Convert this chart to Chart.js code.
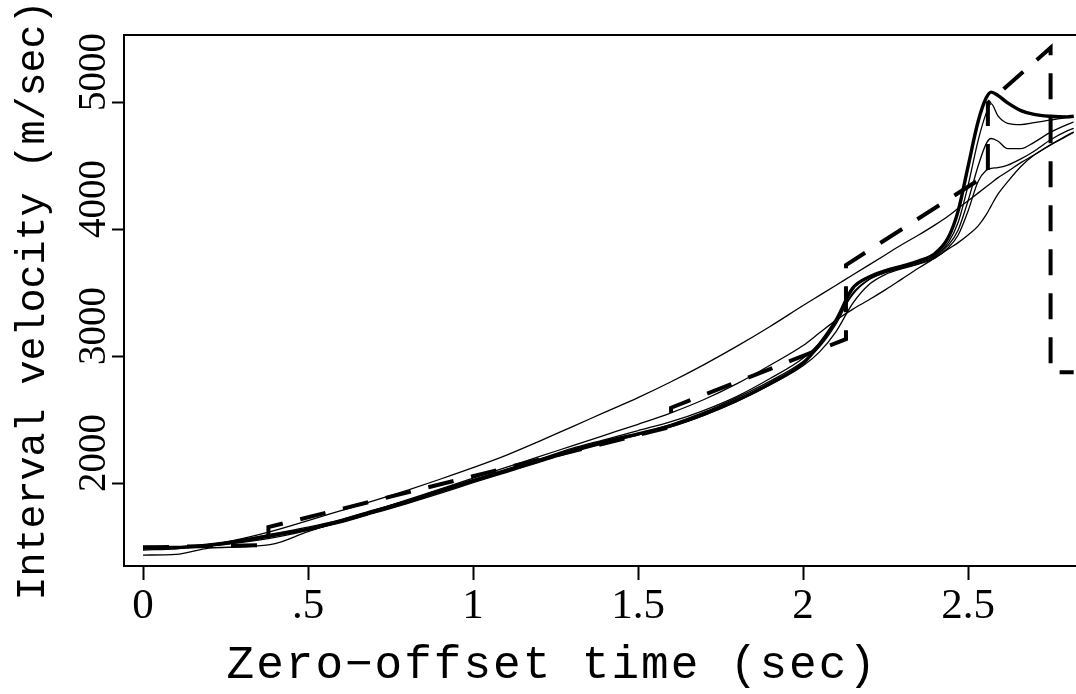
<!DOCTYPE html>
<html>
<head>
<meta charset="utf-8">
<script src="https://cdn.jsdelivr.net/npm/chart.js@4.4.1/dist/chart.umd.min.js"></script>
<style>
  html, body { margin: 0; padding: 0; background: #fff; }
  #wrap { width: 1076px; height: 694px; }
</style>
</head>
<body>
<div id="wrap"><canvas id="grafico" width="1076" height="694"></canvas></div>
<script>
// zero-offset time (sec) shared by the solid curves
const timeGrid = [0, 0.1, 0.2, 0.3, 0.4, 0.5, 0.6, 0.7, 0.8, 0.9, 1.0, 1.1, 1.2, 1.3, 1.4, 1.5, 1.6, 1.7, 1.8, 1.9, 2.0,
  2.05, 2.1, 2.15, 2.2, 2.25, 2.3, 2.35, 2.4,
  2.44, 2.47, 2.5, 2.53, 2.555, 2.57, 2.59, 2.62, 2.66, 2.7, 2.75, 2.8, 2.82];

// interval velocities (m/sec)
const thickVel = [1500, 1500, 1520, 1555, 1600, 1645, 1710, 1785, 1860, 1945, 2025, 2105, 2185, 2265, 2335, 2395, 2460, 2550, 2660, 2790, 2950,
  3100, 3290, 3540, 3630, 3680, 3715, 3755, 3815,
  3940, 4150, 4500, 4850, 5040, 5085, 5060, 5000, 4940, 4910, 4895, 4890, 4895];
const thinVelA = [1490, 1495, 1515, 1545, 1590, 1640, 1700, 1775, 1850, 1935, 2015, 2095, 2175, 2255, 2325, 2395, 2470, 2565, 2680, 2810, 2965,
  3080, 3260, 3500, 3610, 3665, 3705, 3745, 3800,
  3900, 4060, 4350, 4700, 4920, 4995, 4900, 4840, 4830, 4845, 4866, 4885, 4890];
const thinVelB = [1510, 1505, 1525, 1560, 1610, 1660, 1720, 1795, 1870, 1955, 2035, 2115, 2195, 2280, 2350, 2420, 2490, 2580, 2690, 2830, 2990,
  3110, 3290, 3490, 3610, 3665, 3700, 3735, 3790,
  3880, 4000, 4230, 4500, 4680, 4720, 4700, 4640, 4640, 4690, 4770, 4830, 4850];
const thinVelC = [1495, 1500, 1510, 1540, 1580, 1635, 1695, 1770, 1845, 1925, 2010, 2090, 2170, 2250, 2320, 2385, 2450, 2540, 2650, 2780, 2930,
  3040, 3200, 3420, 3570, 3650, 3695, 3730, 3780,
  3860, 3960, 4150, 4380, 4470, 4485, 4490, 4510, 4560, 4620, 4710, 4780, 4800];
const upperVel = [1480, 1490, 1520, 1570, 1635, 1712, 1790, 1868, 1950, 2037, 2128, 2225, 2335, 2450, 2565, 2680, 2805, 2940, 3085, 3240, 3405,
  3485, 3565, 3645, 3725, 3805, 3885, 3960, 4040,
  4110, 4170, 4230, 4290, 4340, 4370, 4410, 4460, 4530, 4590, 4670, 4740, 4770];
const lowerVel = [1440, 1445, 1495, 1505, 1530, 1625, 1705, 1790, 1875, 1960, 2045, 2130, 2215, 2300, 2385, 2470, 2560, 2665, 2790, 2935, 3090,
  3190, 3290, 3375, 3450, 3530, 3615, 3700, 3780,
  3850, 3900, 3960, 4030, 4120, 4190, 4280, 4380, 4500, 4590, 4670, 4745, 4770];

// blocky model (dashed)
const modelTimes = [0, 0.38, 0.38, 1.6, 1.6, 2.13, 2.13, 2.56, 2.56, 2.75, 2.75, 2.82];
const modelVel = [1500, 1520, 1660, 2450, 2600, 3140, 3724, 4440, 5000, 5435, 2880, 2880];

const xTickVals = [0, 0.5, 1, 1.5, 2, 2.5];
const xTickText = ["0", ".5", "1", "1.5", "2", "2.5"];
const yTickVals = [2000, 3000, 4000, 5000];
const xTitle = "Zero\u2212offset time (sec)";
const yTitle = "Interval velocity (m/sec)";

const xMin = -0.0576, xMax = 2.827;
const yMin = 1354, yMax = 5535;

const pts = (xs, ys) => xs.map((x, i) => ({ x: x, y: ys[i] }));

function curve(vals, width) {
  return {
    data: pts(timeGrid, vals),
    borderColor: "#000",
    borderWidth: width,
    pointRadius: 0,
    cubicInterpolationMode: "monotone",
    fill: false
  };
}

// x title sits off-centre in the original, so it is drawn here
const xTitlePlugin = {
  id: "xTitle",
  afterDraw(chart) {
    const ctx = chart.ctx;
    const sx = chart.scales.x;
    ctx.save();
    ctx.font = '46px "Liberation Mono"';
    ctx.letterSpacing = "2px";
    ctx.fillStyle = "#000";
    ctx.textAlign = "center";
    ctx.textBaseline = "middle";
    ctx.fillText(xTitle, sx.getPixelForValue(1.24), sx.bottom - 28);
    ctx.restore();
  }
};

Chart.defaults.font.family = '"Liberation Serif"';
Chart.defaults.color = "#000";

new Chart(document.getElementById("grafico"), {
  type: "line",
  data: {
    datasets: [
      curve(thickVel, 3.4),
      {
        data: pts(modelTimes, modelVel),
        borderColor: "#000",
        borderWidth: 4,
        borderDash: [26, 18],
        pointRadius: 0,
        tension: 0,
        fill: false
      },
      curve(thinVelA, 1.3),
      curve(thinVelB, 1.3),
      curve(thinVelC, 1.3),
      curve(upperVel, 1.3),
      curve(lowerVel, 1.3)
    ]
  },
  options: {
    responsive: false,
    animation: false,
    devicePixelRatio: 1,
    layout: { padding: { top: 35, left: 0, right: 0, bottom: 0 } },
    plugins: { legend: { display: false }, tooltip: { enabled: false } },
    scales: {
      x: {
        type: "linear",
        min: xMin,
        max: xMax,
        afterBuildTicks: (s) => { s.ticks = xTickVals.map(v => ({ value: v })); },
        afterFit: (s) => { s.height = 128; },
        grid: { drawOnChartArea: false, drawTicks: true, tickLength: 14, tickWidth: 2, tickColor: "#000" },
        border: { display: true, width: 2, color: "#000" },
        ticks: {
          autoSkip: false,
          maxRotation: 0,
          padding: 1,
          color: "#000",
          font: { family: '"Liberation Serif"', size: 43 },
          callback: (v, i) => xTickText[i]
        }
      },
      x2: {
        type: "linear",
        position: "top",
        min: xMin,
        max: xMax,
        afterFit: (s) => { s.height = 0; },
        grid: { display: false, drawTicks: false },
        border: { display: true, width: 2, color: "#000" },
        ticks: { display: false }
      },
      y: {
        type: "linear",
        min: yMin,
        max: yMax,
        afterBuildTicks: (s) => { s.ticks = yTickVals.map(v => ({ value: v })); },
        afterFit: (s) => { s.width = 124; },
        grid: { drawOnChartArea: false, drawTicks: true, tickLength: 12, tickWidth: 2, tickColor: "#000" },
        border: { display: true, width: 2, color: "#000" },
        ticks: {
          autoSkip: false,
          minRotation: 90,
          maxRotation: 90,
          crossAlign: "center",
          padding: -22,
          labelOffset: -31,
          color: "#000",
          font: { family: '"Liberation Serif"', size: 39 },
          callback: (v) => String(v)
        },
        title: {
          display: true,
          text: yTitle,
          color: "#000",
          font: { family: '"Liberation Mono"', size: 40 },
          padding: { top: 9, bottom: 0 }
        }
      }
    }
  },
  plugins: [xTitlePlugin]
});
</script>
</body>
</html>
